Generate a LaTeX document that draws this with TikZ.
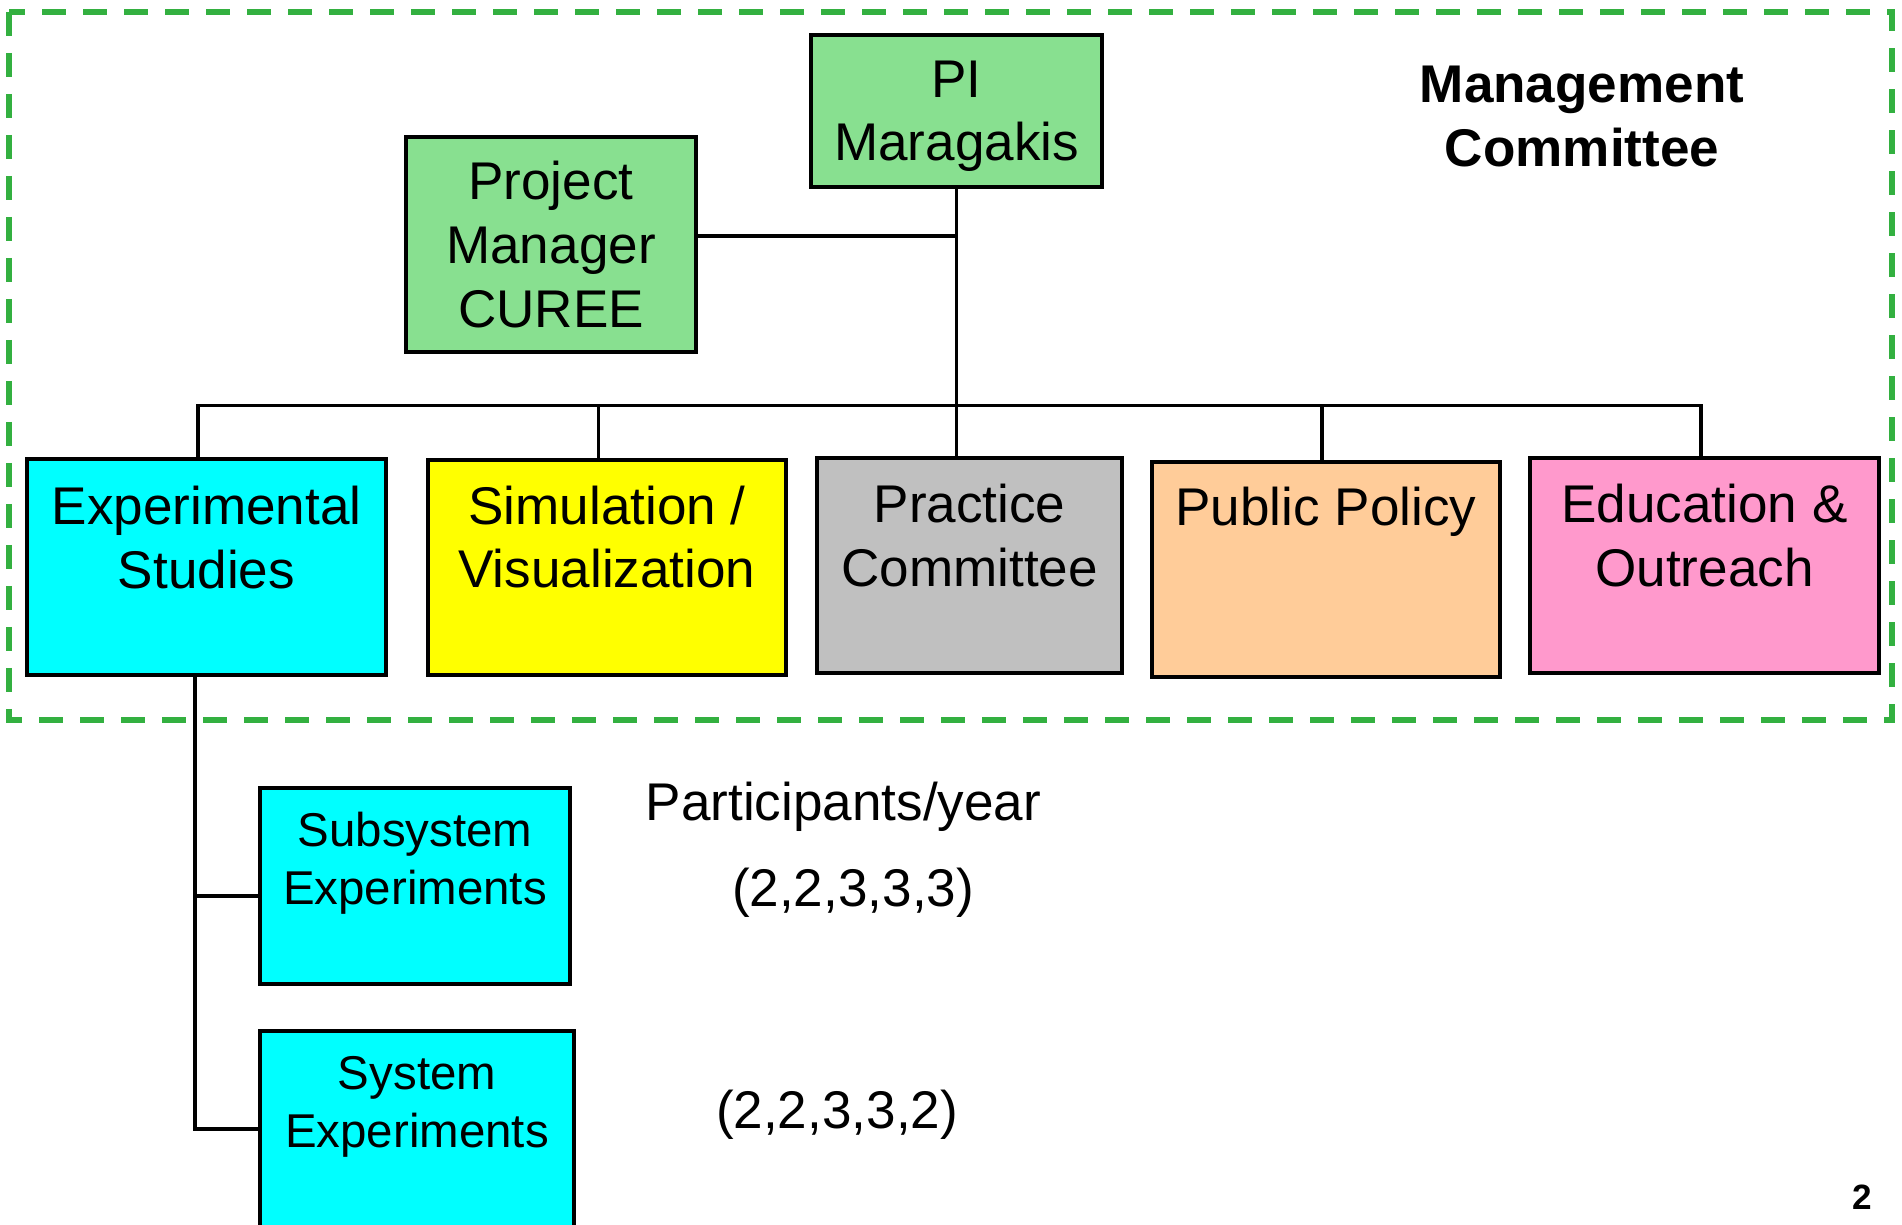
\documentclass[tikz,border=0pt]{standalone}
\usepackage{fontspec}
\setmainfont{Liberation Sans}
\usepackage{tikz}
\usepackage{xcolor}
\definecolor{mgreen}{RGB}{136,224,144}
\definecolor{dgreen}{RGB}{51,176,64}
\definecolor{aqua}{RGB}{0,255,255}
\definecolor{lemon}{RGB}{255,255,0}
\definecolor{lgray}{RGB}{192,192,192}
\definecolor{peach}{RGB}{255,204,153}
\definecolor{rose}{RGB}{255,153,204}
\begin{document}
\begin{tikzpicture}
      \useasboundingbox(0,0) rectangle (19.02,12.25);
      \clip (0,0) rectangle (19.02,12.25);
      \tikzset{B/.style = {shape=rectangle, draw, line width=1.2pt}}
      \tikzset{T/.style = {align=center, inner sep=0pt, font=\fontsize{15.1pt}{18.1pt}\selectfont}}
      \tikzset{S/.style = {align=center, inner sep=0pt, font=\fontsize{13.5pt}{16.5pt}\selectfont}}
      \tikzset{E/.style = {draw, line width=1pt}}
      % management committee frame
      \draw[dgreen, line width=1.5pt, dash pattern=on 0.24cm off 0.17cm] (0.09,12.13) rectangle (18.92,5.05);
      \node[T,font=\fontsize{15.1pt}{18.1pt}\selectfont\bfseries](mc) at (15.82,11.085) {Management\\Committee};
      \node[B,fill=mgreen,minimum width=2.91cm,minimum height=1.52cm](pi) at (9.565,11.14) {};
      \node[T,anchor=north](piT) at ([yshift=-0.27cm]pi.north) {PI\\Maragakis};
      \node[B,T,fill=mgreen,minimum width=2.90cm,minimum height=2.15cm](pm) at (5.51,9.805) {Project\\Manager\\CUREE};
      \node[B,fill=aqua,minimum width=3.59cm,minimum height=2.16cm](exp) at (2.065,6.58) {};
      \node[B,fill=lemon,minimum width=3.58cm,minimum height=2.15cm](sim) at (6.07,6.575) {};
      \node[B,fill=lgray,minimum width=3.05cm,minimum height=2.15cm](prac) at (9.695,6.595) {};
      \node[B,fill=peach,minimum width=3.48cm,minimum height=2.15cm](pub) at (13.26,6.555) {};
      \node[B,fill=rose,minimum width=3.49cm,minimum height=2.15cm](edu) at (17.045,6.595) {};
      \node[T,anchor=north](expT) at ([yshift=-0.285cm]exp.north) {Experimental\\Studies};
      \node[T,anchor=north](simT) at ([yshift=-0.27cm]sim.north) {Simulation /\\Visualization};
      \node[T,anchor=north](pracT) at ([yshift=-0.275cm]prac.north) {Practice\\Committee};
      \node[T,anchor=north](pubT) at ([yshift=-0.26cm]pub.north) {Public Policy};
      \node[T,anchor=north](eduT) at ([yshift=-0.275cm]edu.north) {Education \&\\Outreach};
      \node[B,fill=aqua,minimum width=3.10cm,minimum height=1.96cm](sub) at (4.15,3.39) {};
      \node[B,fill=aqua,minimum width=3.14cm,minimum height=2.34cm](sys) at (4.17,0.77) {};
      \node[S,anchor=north](subT) at ([yshift=-0.255cm]sub.north) {Subsystem\\Experiments};
      \node[S,anchor=north](sysT) at ([yshift=-0.27cm]sys.north) {System\\Experiments};
      \node[T,anchor=base](py) at (8.435,4.04) {Participants/year};
      \node[T,anchor=base](n1) at (8.53,3.18) {(2,2,3,3,3)};
      \node[T,anchor=base](n2) at (8.37,0.96) {(2,2,3,3,2)};
      \node[anchor=base,inner sep=0pt,font=\fontsize{10pt}{12pt}\selectfont\bfseries](pg) at (18.62,0.15) {2};
      \coordinate (pmj) at (9.565,9.89);
      \coordinate (busL) at (1.98,8.195);
      \coordinate (busR) at (17.01,8.195);
      \coordinate (dsim) at (5.985,8.195);
      \coordinate (dpub) at (13.22,8.195);
      \coordinate (tsub) at (1.95,3.29);
      \coordinate (tsys) at (1.95,0.96);
      \draw[E] (pi.south) -- (pi.south |- prac.north);
      \draw[E] (pm.east |- pmj) -- (pmj);
      \draw[E] (busL |- exp.north) -- (busL) -- (busR) -- (busR |- edu.north);
      \draw[E] (dsim) -- (dsim |- sim.north);
      \draw[E] (dpub) -- (dpub |- pub.north);
      \draw[E] (exp.south -| tsub) -- (tsys) -- (tsys -| sys.west);
      \draw[E] (tsub) -- (tsub -| sub.west);
\end{tikzpicture}
\end{document}
